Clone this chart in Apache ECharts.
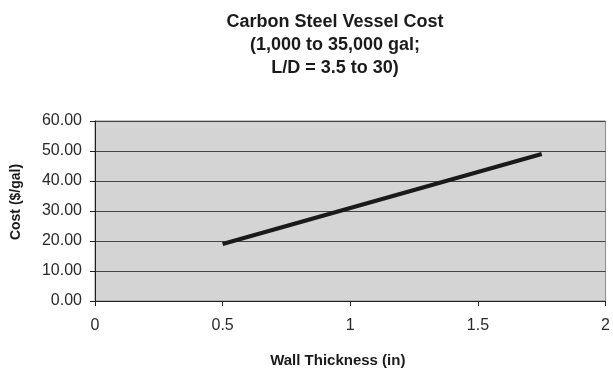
<!DOCTYPE html>
<html><head><meta charset="utf-8">
<script src="https://cdn.jsdelivr.net/npm/echarts@6/dist/echarts.min.js"></script>
<style>html,body{margin:0;padding:0;background:#fff}#c{width:613px;height:369px}</style>
</head><body><div id="c"></div>
<script>
const thickness = [0.5, 1.0, 1.5, 1.75];
const cost = [19.0, 31.0, 43.0, 49.0];
const titleText = 'Carbon Steel Vessel Cost\n(1,000 to 35,000 gal;\nL/D = 3.5 to 30)';
const xName = 'Wall Thickness (in)';
const yName = 'Cost ($/gal)';

const chart = echarts.init(document.getElementById('c'), null, {renderer:'canvas'});
const font = 'Liberation Sans, Arial, sans-serif';
chart.setOption({
  animation:false,
  backgroundColor:'#fff',
  title:{text:titleText,left:330,top:6,textAlign:'center',
    textStyle:{fontFamily:font,fontSize:18,fontWeight:'bold',color:'#1a1a1a',lineHeight:23}},
  grid:{left:95,right:7,top:121,bottom:67,show:true,backgroundColor:'#d4d4d4',borderColor:'#8a8a8a',borderWidth:1},
  xAxis:{type:'value',min:0,max:2,interval:0.5,
    name:xName,nameLocation:'middle',nameGap:52,
    nameTextStyle:{fontFamily:font,fontSize:15,fontWeight:'bold',color:'#1a1a1a',padding:[0,25,0,0]},
    axisLine:{show:true,lineStyle:{color:'#222',width:1}},
    axisTick:{show:true,inside:false,length:5,lineStyle:{color:'#222'}},
    axisLabel:{fontFamily:font,fontSize:16,color:'#2a2a2a',margin:17,formatter:v=>String(v)},
    splitLine:{show:false}},
  yAxis:{type:'value',min:0,max:60,interval:10,
    name:yName,nameLocation:'middle',nameGap:72,
    nameTextStyle:{fontFamily:font,fontSize:14,fontWeight:'bold',color:'#1a1a1a',padding:[0,0,0,18]},
    axisLine:{show:true,lineStyle:{color:'#222',width:1}},
    axisTick:{show:true,inside:false,length:5,lineStyle:{color:'#222'}},
    axisLabel:{fontFamily:font,fontSize:16,color:'#2a2a2a',margin:13,formatter:v=>v.toFixed(2)},
    splitLine:{show:true,lineStyle:{color:'#444',width:1}}},
  series:[{type:'line',data:thickness.map((x,i)=>[x,cost[i]]),
    symbol:'none',lineStyle:{color:'#1a1a1a',width:4},itemStyle:{color:'#1a1a1a'}}]
});
</script></body></html>
